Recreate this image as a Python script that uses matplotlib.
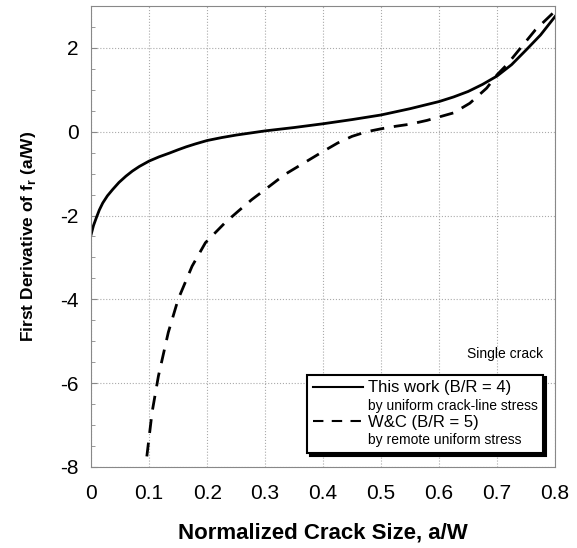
import matplotlib
matplotlib.use("Agg")
import matplotlib.pyplot as plt
from matplotlib.lines import Line2D
from matplotlib.ticker import MultipleLocator

plt.rcParams['font.family'] = ['Liberation Sans', 'DejaVu Sans']

# This work (B/R = 4), uniform crack-line stress
a_this = [0.0, 0.004, 0.009, 0.014, 0.02, 0.028, 0.037, 0.048, 0.06, 0.071, 0.083,
          0.1, 0.117, 0.135, 0.15, 0.164, 0.18, 0.2, 0.225, 0.25, 0.275, 0.3,
          0.35, 0.4, 0.45, 0.5, 0.55, 0.6, 0.625, 0.65, 0.675, 0.7, 0.725, 0.75,
          0.775, 0.8]
v_this = [-2.45, -2.24, -2.05, -1.87, -1.70, -1.53, -1.38, -1.21, -1.06, -0.94, -0.83,
          -0.70, -0.60, -0.51, -0.43, -0.36, -0.29, -0.21, -0.14, -0.08, -0.03, 0.02,
          0.1, 0.19, 0.29, 0.4, 0.55, 0.72, 0.83, 0.96, 1.13, 1.33, 1.6, 1.95,
          2.31, 2.75]

# W&C (B/R = 5), remote uniform stress
a_wc = [0.096, 0.105, 0.116, 0.133, 0.15, 0.174, 0.197, 0.231, 0.255, 0.277, 0.30,
        0.334, 0.37, 0.40, 0.425, 0.45, 0.475, 0.5, 0.525, 0.55, 0.579, 0.602, 0.625,
        0.653, 0.682, 0.70, 0.717, 0.74, 0.766, 0.797]
v_wc = [-7.75, -6.7, -5.83, -4.79, -4.0, -3.21, -2.65, -2.17, -1.88, -1.62, -1.38,
        -1.02, -0.72, -0.47, -0.27, -0.11, 0.0, 0.07, 0.13, 0.18, 0.27, 0.36, 0.45,
        0.68, 1.04, 1.36, 1.6, 1.99, 2.43, 2.84]

fig = plt.figure(figsize=(5.77, 5.48), dpi=100)
ax = fig.add_axes([0.158, 0.148, 0.804, 0.841])

ax.plot(a_this, v_this, 'k-', linewidth=2)
ax.plot(a_wc, v_wc, 'k--', linewidth=2, dashes=(5, 3.5))

ax.set_xlim(0, 0.8)
ax.set_ylim(-8, 3)
ax.yaxis.set_minor_locator(MultipleLocator(0.5))
ax.set_xticks([0, 0.1, 0.2, 0.3, 0.4, 0.5, 0.6, 0.7, 0.8])
ax.set_xticklabels(['0', '0.1', '0.2', '0.3', '0.4', '0.5', '0.6', '0.7', '0.8'])
ax.set_yticks([-8, -6, -4, -2, 0, 2])
ax.set_yticklabels(['-8', '-6', '-4', '-2', '0', '2'])
ax.tick_params(axis='both', which='both', direction='in', color='#888888', labelsize=15)
ax.tick_params(axis='x', which='major', length=0, pad=12)
ax.tick_params(axis='y', which='major', length=4, pad=9)
ax.tick_params(axis='y', which='minor', length=3)
ax.grid(True, which='major', color='#aaaaaa', linestyle=':', linewidth=0.8)
for s in ax.spines.values():
    s.set_color('#888888')
    s.set_linewidth(0.8)

ax.set_xlabel('Normalized Crack Size, a/W', fontsize=16, fontweight='bold', labelpad=14)
ax.set_ylabel('First Derivative of f$_\\mathregular{r}$ (a/W)', fontsize=12.5,
              fontweight='bold', labelpad=16)

handles = [Line2D([], [], color='k', linewidth=1.5),
           Line2D([], [], linestyle='none'),
           Line2D([], [], color='k', linewidth=1.5, linestyle='--', dashes=(5, 4)),
           Line2D([], [], linestyle='none')]
labels = ['This work (B/R = 4)', 'by uniform crack-line stress',
          'W&C (B/R = 5)', 'by remote uniform stress']
leg = ax.legend(handles, labels, loc='lower right', bbox_to_anchor=(0.975, 0.03),
                fancybox=False, shadow={'color': 'black', 'alpha': 1.0}, framealpha=1,
                edgecolor='black', fontsize=12, handlelength=3.0, handletextpad=0.3,
                labelspacing=0.15, borderpad=0.35, borderaxespad=0)
leg.get_frame().set_linewidth(1.5)
for i, t in enumerate(leg.get_texts()):
    if i % 2 == 1:
        t.set_fontsize(10)

ax.text(0.975, 0.245, 'Single crack', transform=ax.transAxes, ha='right', va='center',
        fontsize=10)

fig.savefig('out.png', dpi=100)
